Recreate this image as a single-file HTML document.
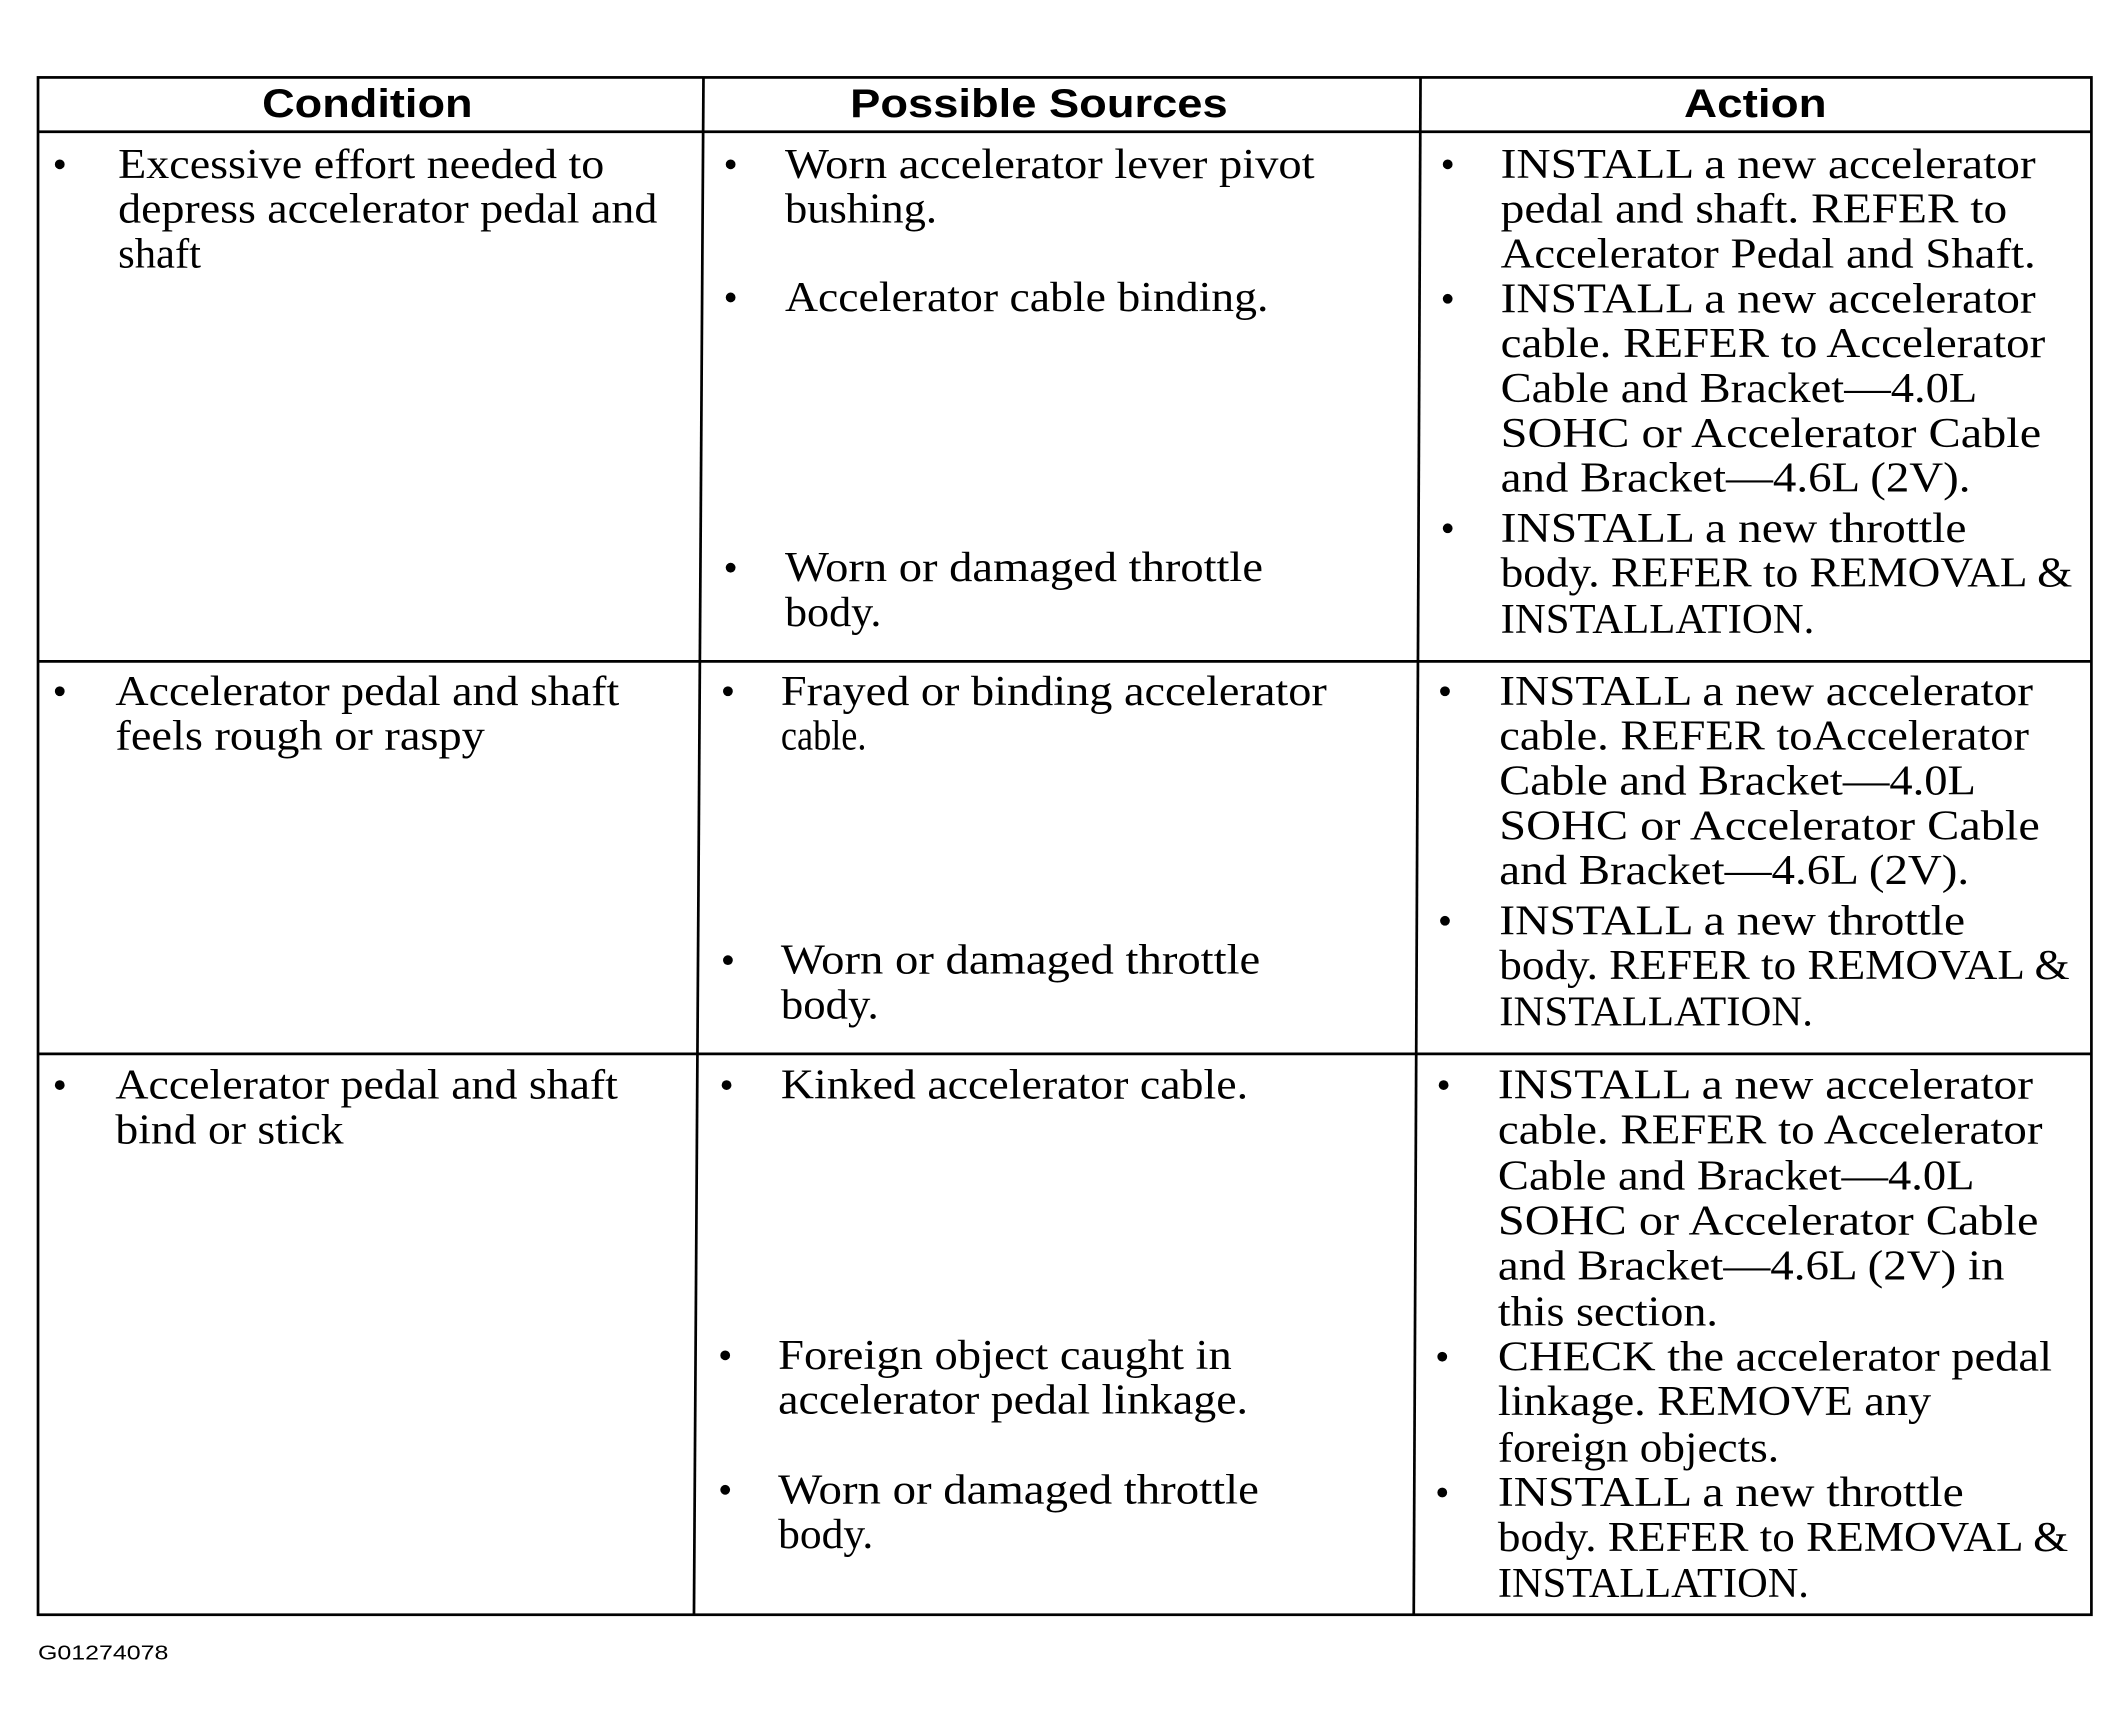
<!DOCTYPE html>
<html><head><meta charset="utf-8"><style>html,body{margin:0;padding:0;background:#fff}svg{display:block}
.s{font-family:"Liberation Serif",serif;font-size:31px;fill:#000}
.h{font-family:"Liberation Sans",sans-serif;font-weight:bold;font-size:29px;fill:#000}
</style></head><body>
<svg width="2124" height="1731" viewBox="0 0 1564 1274.6" xmlns="http://www.w3.org/2000/svg">
<g stroke="#000" stroke-width="2" fill="none">
<rect x="28" y="57" width="1512" height="1132"/>
<line x1="28" y1="97" x2="1540" y2="97"/>
<line x1="28" y1="487" x2="1540" y2="487"/>
<line x1="28" y1="776" x2="1540" y2="776"/>
<line x1="518" y1="57" x2="511" y2="1189"/>
<line x1="1046" y1="57" x2="1041" y2="1189"/>
</g>
<g class="h">
<text x="193" y="86" textLength="155" lengthAdjust="spacingAndGlyphs">Condition</text>
<text x="626" y="86" textLength="278" lengthAdjust="spacingAndGlyphs">Possible Sources</text>
<text x="1240" y="86" textLength="105" lengthAdjust="spacingAndGlyphs">Action</text>
</g>
<text x="28" y="1222" font-family="Liberation Sans,sans-serif" font-size="15" textLength="96" lengthAdjust="spacingAndGlyphs">G01274078</text>
<g fill="#000">
<circle cx="44" cy="121" r="3.6"/><circle cx="44" cy="509" r="3.6"/><circle cx="44" cy="799" r="3.6"/>
<circle cx="538" cy="121" r="3.6"/><circle cx="538" cy="219" r="3.6"/><circle cx="538" cy="418" r="3.6"/>
<circle cx="536" cy="509" r="3.6"/><circle cx="536" cy="707" r="3.6"/>
<circle cx="535" cy="799" r="3.6"/><circle cx="534" cy="998" r="3.6"/><circle cx="534" cy="1097" r="3.6"/>
<circle cx="1066" cy="121" r="3.6"/><circle cx="1066" cy="220" r="3.6"/><circle cx="1066" cy="389" r="3.6"/>
<circle cx="1064" cy="509" r="3.6"/><circle cx="1064" cy="678" r="3.6"/>
<circle cx="1063" cy="799" r="3.6"/><circle cx="1062" cy="999" r="3.6"/><circle cx="1062" cy="1099" r="3.6"/>
</g>
<g class="s">
<text x="87" y="131" textLength="358" lengthAdjust="spacingAndGlyphs">Excessive effort needed to</text>
<text x="87" y="164" textLength="397" lengthAdjust="spacingAndGlyphs">depress accelerator pedal and</text>
<text x="87" y="197" textLength="61" lengthAdjust="spacingAndGlyphs">shaft</text>
<text x="85" y="519" textLength="371" lengthAdjust="spacingAndGlyphs">Accelerator pedal and shaft</text>
<text x="85" y="552" textLength="272" lengthAdjust="spacingAndGlyphs">feels rough or raspy</text>
<text x="85" y="809" textLength="370" lengthAdjust="spacingAndGlyphs">Accelerator pedal and shaft</text>
<text x="85" y="842" textLength="168" lengthAdjust="spacingAndGlyphs">bind or stick</text>

<text x="578" y="131" textLength="390" lengthAdjust="spacingAndGlyphs">Worn accelerator lever pivot</text>
<text x="578" y="164" textLength="112" lengthAdjust="spacingAndGlyphs">bushing.</text>
<text x="578" y="229" textLength="356" lengthAdjust="spacingAndGlyphs">Accelerator cable binding.</text>
<text x="578" y="428" textLength="352" lengthAdjust="spacingAndGlyphs">Worn or damaged throttle</text>
<text x="578" y="461" textLength="71" lengthAdjust="spacingAndGlyphs">body.</text>
<text x="575" y="519" textLength="402" lengthAdjust="spacingAndGlyphs">Frayed or binding accelerator</text>
<text x="575" y="552" textLength="63" lengthAdjust="spacingAndGlyphs">cable.</text>
<text x="575" y="717" textLength="353" lengthAdjust="spacingAndGlyphs">Worn or damaged throttle</text>
<text x="575" y="750" textLength="72" lengthAdjust="spacingAndGlyphs">body.</text>
<text x="575" y="809" textLength="344" lengthAdjust="spacingAndGlyphs">Kinked accelerator cable.</text>
<text x="573" y="1008" textLength="334" lengthAdjust="spacingAndGlyphs">Foreign object caught in</text>
<text x="573" y="1041" textLength="346" lengthAdjust="spacingAndGlyphs">accelerator pedal linkage.</text>
<text x="573" y="1107" textLength="354" lengthAdjust="spacingAndGlyphs">Worn or damaged throttle</text>
<text x="573" y="1140" textLength="70" lengthAdjust="spacingAndGlyphs">body.</text>

<text x="1105" y="131" textLength="394" lengthAdjust="spacingAndGlyphs">INSTALL a new accelerator</text>
<text x="1105" y="164" textLength="373" lengthAdjust="spacingAndGlyphs">pedal and shaft. REFER to</text>
<text x="1105" y="197" textLength="394" lengthAdjust="spacingAndGlyphs">Accelerator Pedal and Shaft.</text>
<text x="1105" y="230" textLength="394" lengthAdjust="spacingAndGlyphs">INSTALL a new accelerator</text>
<text x="1105" y="263" textLength="401" lengthAdjust="spacingAndGlyphs">cable. REFER to Accelerator</text>
<text x="1105" y="296" textLength="351" lengthAdjust="spacingAndGlyphs">Cable and Bracket—4.0L</text>
<text x="1105" y="329" textLength="398" lengthAdjust="spacingAndGlyphs">SOHC or  Accelerator Cable</text>
<text x="1105" y="362" textLength="346" lengthAdjust="spacingAndGlyphs">and Bracket—4.6L (2V).</text>
<text x="1105" y="399" textLength="343" lengthAdjust="spacingAndGlyphs">INSTALL a new throttle</text>
<text x="1105" y="432" textLength="421" lengthAdjust="spacingAndGlyphs">body. REFER to REMOVAL &amp;</text>
<text x="1105" y="466" textLength="231" lengthAdjust="spacingAndGlyphs">INSTALLATION.</text>

<text x="1104" y="519" textLength="393" lengthAdjust="spacingAndGlyphs">INSTALL a new accelerator</text>
<text x="1104" y="552" textLength="390" lengthAdjust="spacingAndGlyphs">cable. REFER toAccelerator</text>
<text x="1104" y="585" textLength="351" lengthAdjust="spacingAndGlyphs">Cable and Bracket—4.0L</text>
<text x="1104" y="618" textLength="398" lengthAdjust="spacingAndGlyphs">SOHC or  Accelerator Cable</text>
<text x="1104" y="651" textLength="346" lengthAdjust="spacingAndGlyphs">and Bracket—4.6L (2V).</text>
<text x="1104" y="688" textLength="343" lengthAdjust="spacingAndGlyphs">INSTALL a new throttle</text>
<text x="1104" y="721" textLength="420" lengthAdjust="spacingAndGlyphs">body. REFER to REMOVAL &amp;</text>
<text x="1104" y="755" textLength="231" lengthAdjust="spacingAndGlyphs">INSTALLATION.</text>

<text x="1103" y="809" textLength="394" lengthAdjust="spacingAndGlyphs">INSTALL a new accelerator</text>
<text x="1103" y="842" textLength="401" lengthAdjust="spacingAndGlyphs">cable. REFER to Accelerator</text>
<text x="1103" y="876" textLength="351" lengthAdjust="spacingAndGlyphs">Cable and Bracket—4.0L</text>
<text x="1103" y="909" textLength="398" lengthAdjust="spacingAndGlyphs">SOHC or  Accelerator Cable</text>
<text x="1103" y="942" textLength="373" lengthAdjust="spacingAndGlyphs">and Bracket—4.6L (2V) in</text>
<text x="1103" y="976" textLength="162" lengthAdjust="spacingAndGlyphs">this section.</text>
<text x="1103" y="1009" textLength="408" lengthAdjust="spacingAndGlyphs">CHECK the accelerator pedal</text>
<text x="1103" y="1042" textLength="319" lengthAdjust="spacingAndGlyphs">linkage. REMOVE any</text>
<text x="1103" y="1076" textLength="207" lengthAdjust="spacingAndGlyphs">foreign objects.</text>
<text x="1103" y="1109" textLength="343" lengthAdjust="spacingAndGlyphs">INSTALL a new throttle</text>
<text x="1103" y="1142" textLength="420" lengthAdjust="spacingAndGlyphs">body. REFER to REMOVAL &amp;</text>
<text x="1103" y="1176" textLength="229" lengthAdjust="spacingAndGlyphs">INSTALLATION.</text>
</g>
</svg>
</body></html>
